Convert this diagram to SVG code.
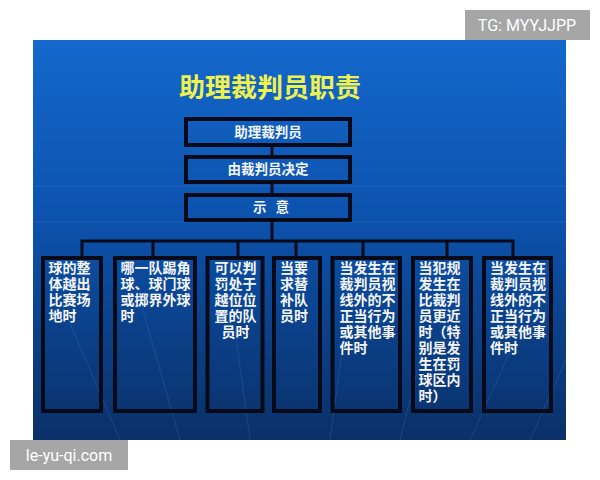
<svg xmlns="http://www.w3.org/2000/svg" width="600" height="480" viewBox="0 0 600 480">
<defs>
<linearGradient id="bg" x1="0" y1="0" x2="0" y2="1">
<stop offset="0" stop-color="#1468cc"/>
<stop offset="0.45" stop-color="#0c52ad"/>
<stop offset="0.75" stop-color="#0b3f86"/>
<stop offset="1" stop-color="#0a3068"/>
</linearGradient>
<style>
.box{fill:none;stroke:#050a18;stroke-width:4}
.con{fill:none;stroke:#050a18;stroke-width:3}
.t{font-family:"Noto Sans CJK SC","Noto Sans",sans-serif;font-weight:bold;fill:#f4f6fa;font-size:14px}
.c{font-family:"Noto Sans CJK SC","Noto Sans",sans-serif;font-weight:bold;fill:#f4f6fa;font-size:13.5px;text-anchor:middle}
.wm{font-family:Roboto,"Liberation Sans",sans-serif;fill:#ffffff;font-size:16px}
.deco{stroke:#6f9be0;stroke-opacity:0.18;stroke-width:1;fill:none}
</style>
</defs>
<rect x="0" y="0" width="600" height="480" fill="#ffffff"/>
<rect x="33" y="40" width="533" height="400" fill="url(#bg)"/>
<g class="deco">
<line x1="33" y1="186" x2="566" y2="186"/>
<line x1="33" y1="222" x2="566" y2="222"/>
<line x1="120" y1="440" x2="60" y2="300"/>
<line x1="180" y1="440" x2="140" y2="300"/>
<line x1="250" y1="440" x2="235" y2="330"/>
<line x1="330" y1="440" x2="345" y2="330"/>
<line x1="400" y1="440" x2="430" y2="320"/>
<line x1="470" y1="440" x2="520" y2="330"/>
<line x1="530" y1="440" x2="566" y2="360"/>
</g>
<text x="270" y="97" font-family="'Noto Sans CJK SC',sans-serif" font-weight="bold" font-size="26" fill="#eef24e" text-anchor="middle">助理裁判员职责</text>
<g id="connectors">
<line class="con" x1="272" y1="147" x2="272" y2="155"/>
<line class="con" x1="272" y1="184" x2="272" y2="193"/>
<line class="con" x1="272" y1="222" x2="272" y2="241"/>
<polyline class="con" points="82,256 82,241 513,241 513,256"/>
<line class="con" x1="153" y1="241" x2="153" y2="256"/>
<line class="con" x1="238" y1="241" x2="238" y2="256"/>
<line class="con" x1="296" y1="241" x2="296" y2="256"/>
<line class="con" x1="363" y1="241" x2="363" y2="256"/>
<line class="con" x1="447" y1="241" x2="447" y2="256"/>
</g>
<g id="n-assistant"><rect class="box" x="186" y="119" width="164" height="26"/><text class="c" x="268" y="137">助理裁判员</text></g>
<g id="n-decide"><rect class="box" x="186" y="157" width="164" height="25"/><text class="c" x="268" y="174">由裁判员决定</text></g>
<g id="n-signal"><rect class="box" x="186" y="195" width="164" height="25"/><text class="c" x="271" y="212" xml:space="preserve">示   意</text></g>
<g id="n1"><rect class="box" x="43" y="258" width="58" height="153"/>
<text class="t"><tspan x="48.5" y="273">球的整</tspan><tspan x="48.5" y="289">体越出</tspan><tspan x="48.5" y="305">比赛场</tspan><tspan x="48.5" y="321">地时</tspan></text></g>
<g id="n2"><rect class="box" x="115" y="258" width="80" height="153"/>
<text class="t"><tspan x="120.5" y="273">哪一队踢角</tspan><tspan x="120.5" y="289">球、球门球</tspan><tspan x="120.5" y="305">或掷界外球</tspan><tspan x="120.5" y="321">时</tspan></text></g>
<g id="n3"><rect class="box" x="207.5" y="258" width="55" height="153"/>
<text class="t"><tspan x="214.5" y="273">可以判</tspan><tspan x="214.5" y="289">罚处于</tspan><tspan x="214.5" y="305">越位位</tspan><tspan x="214.5" y="321">置的队</tspan><tspan x="221.5" y="337">员时</tspan></text></g>
<g id="n4"><rect class="box" x="274" y="258" width="46" height="153"/>
<text class="t"><tspan x="280" y="273">当要</tspan><tspan x="280" y="289">求替</tspan><tspan x="280" y="305">补队</tspan><tspan x="280" y="321">员时</tspan></text></g>
<g id="n5"><rect class="box" x="332.5" y="258" width="67.5" height="153"/>
<text class="t"><tspan x="339.5" y="273">当发生在</tspan><tspan x="339.5" y="289">裁判员视</tspan><tspan x="339.5" y="305">线外的不</tspan><tspan x="339.5" y="321">正当行为</tspan><tspan x="339.5" y="337">或其他事</tspan><tspan x="339.5" y="353">件时</tspan></text></g>
<g id="n6"><rect class="box" x="413" y="258" width="58" height="153"/>
<text class="t"><tspan x="418.5" y="273">当犯规</tspan><tspan x="418.5" y="289">发生在</tspan><tspan x="418.5" y="305">比裁判</tspan><tspan x="418.5" y="321">员更近</tspan><tspan x="418.5" y="337">时（特</tspan><tspan x="418.5" y="353">别是发</tspan><tspan x="418.5" y="369">生在罚</tspan><tspan x="418.5" y="385">球区内</tspan><tspan x="418.5" y="401">时）</tspan></text></g>
<g id="n7"><rect class="box" x="484" y="258" width="67" height="153"/>
<text class="t"><tspan x="490" y="273">当发生在</tspan><tspan x="490" y="289">裁判员视</tspan><tspan x="490" y="305">线外的不</tspan><tspan x="490" y="321">正当行为</tspan><tspan x="490" y="337">或其他事</tspan><tspan x="490" y="353">件时</tspan></text></g>
<rect x="465" y="10" width="125" height="30" fill="#a6a6a6"/>
<text class="wm" x="527" y="31" text-anchor="middle">TG: MYYJJPP</text>
<rect x="10" y="440" width="118" height="30" fill="#a6a6a6"/>
<text class="wm" x="69" y="461" text-anchor="middle">le-yu-qi.com</text>
</svg>
